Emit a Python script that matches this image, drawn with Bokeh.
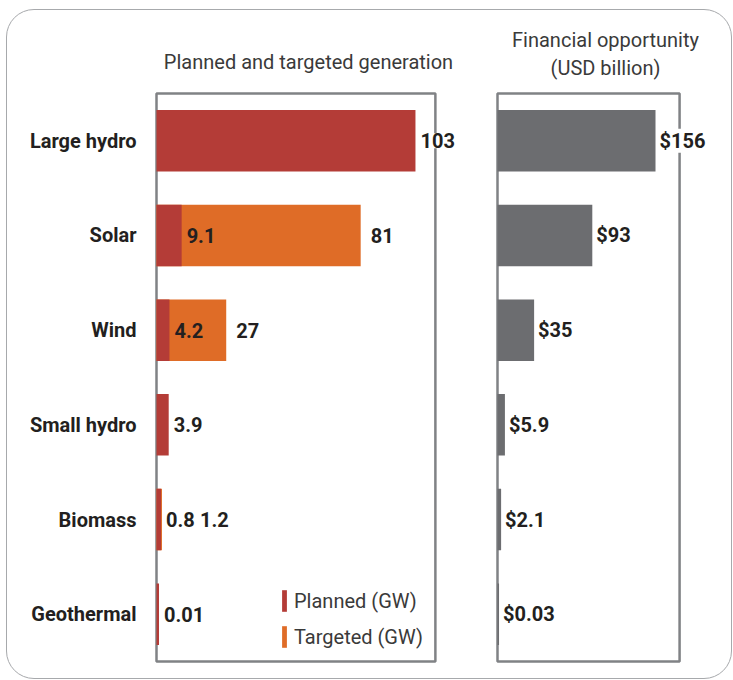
from bokeh.plotting import figure
from bokeh.models import (ColumnDataSource, LabelSet, Legend, LegendItem, Title,
                          BoxAnnotation, FixedTicker, Range1d)
from bokeh.core.properties import value
from bokeh.layouts import row
from bokeh.embed import file_html
from bokeh.resources import INLINE

# ---------------- data ----------------
categories = ["Large hydro", "Solar", "Wind", "Small hydro", "Biomass", "Geothermal"]
planned_gw = [103, 9.1, 4.2, 3.9, 0.8, 0.01]
planned_labels = ["103", "9.1", "4.2", "3.9", "0.8", "0.01"]
targeted_gw = [None, 81, 27, None, 1.2, None]
targeted_labels = ["", "81", "27", "", "1.2", ""]
finance_usd_bn = [156, 93, 35, 5.9, 2.1, 0.03]
finance_labels = ["$156", "$93", "$35", "$5.9", "$2.1", "$0.03"]

# ---------------- style ----------------
RED = "#B43C37"
ORANGE = "#DF6C27"
GREY = "#6C6D70"
FRAME = "#808285"
TEXT = "#231F20"
TITLE_C = "#3A3A3A"
FONT = "Roboto"

n = len(categories)
ypos = list(range(n - 1, -1, -1))          # top row first

LEFT_BASE, LEFT_BOX_END = -1.0, 111
RIGHT_BASE, RIGHT_BOX_END = -1.5, 180
LEFT_X = (-1.803, 121.89)
RIGHT_X = (-3.49, 215.8)
Y_PAD = 0.0211

H = 668
TOP = 81
FRAME_H = 572


def style_title(t):
    t.text_font = FONT
    t.text_font_style = "normal"
    t.text_font_size = "20px"
    t.text_color = TITLE_C
    t.align = "center"


def base_fig(width, x_range, bl, br):
    p = figure(width=width, height=H, x_range=Range1d(*x_range),
               y_range=Range1d(-0.5 - Y_PAD, n - 0.5 + Y_PAD),
               output_backend="svg", toolbar_location=None,
               min_border_left=bl, min_border_right=br,
               min_border_top=TOP, min_border_bottom=H - TOP - FRAME_H)
    p.xaxis.visible = False
    p.xgrid.visible = False
    p.ygrid.visible = False
    p.outline_line_color = None
    p.background_fill_color = None
    p.border_fill_color = None
    style_title(p.title)
    return p


def panel_box(p, left, right):
    p.add_layout(BoxAnnotation(left=left, right=right, bottom=-0.5, top=n - 0.5,
                               fill_alpha=0, line_color=FRAME, line_alpha=1,
                               line_width=2.5, level="underlay"))


lab_kw = dict(text_font=value(FONT), text_font_style="bold", text_font_size="20px",
              text_color=TEXT, text_baseline="middle", text_align="left")

# ---------------- left panel ----------------
left = base_fig(455, LEFT_X, 147, 0)
left.title.text = "Planned and targeted generation"
left.title.standoff = 35
panel_box(left, LEFT_BASE, LEFT_BOX_END)

tgt_idx = [i for i, t in enumerate(targeted_gw) if t is not None]
only_idx = [i for i, t in enumerate(targeted_gw) if t is None]

src_t = ColumnDataSource(dict(
    y=[ypos[i] for i in tgt_idx],
    val=[targeted_gw[i] for i in tgt_idx],
    lab=[targeted_labels[i] for i in tgt_idx],
    off=[10 if (targeted_gw[i] - planned_gw[i]) > 5 else 38 for i in tgt_idx],
))
src_p = ColumnDataSource(dict(y=ypos, val=planned_gw, lab=planned_labels))
src_p_stack = ColumnDataSource(dict(
    y=[ypos[i] for i in tgt_idx],
    val=[planned_gw[i] for i in tgt_idx],
    lab=[planned_labels[i] for i in tgt_idx]))
src_p_only = ColumnDataSource(dict(
    y=[ypos[i] for i in only_idx],
    val=[planned_gw[i] for i in only_idx],
    lab=[planned_labels[i] for i in only_idx]))

r_t = left.hbar(y="y", left=LEFT_BASE, right="val", height=0.65, source=src_t,
                fill_color=ORANGE, line_color=None)
r_p = left.hbar(y="y", left=LEFT_BASE, right="val", height=0.65, source=src_p,
                fill_color=RED, line_color=None)

left.add_layout(LabelSet(x="val", y="y", text="lab", source=src_p_only, x_offset=5,
                         background_fill_color="white", **lab_kw))
left.add_layout(LabelSet(x="val", y="y", text="lab", source=src_p_stack, x_offset=5,
                         **lab_kw))
left.add_layout(LabelSet(x="val", y="y", text="lab", source=src_t, x_offset="off",
                         **lab_kw))

yax = left.yaxis[0]
yax.ticker = FixedTicker(ticks=ypos)
yax.major_label_overrides = {y: c for y, c in zip(ypos, categories)}
yax.axis_line_color = None
yax.major_tick_line_color = None
yax.minor_tick_line_color = None
yax.major_label_text_font = FONT
yax.major_label_text_font_style = "bold"
yax.major_label_text_font_size = "20px"
yax.major_label_text_color = TEXT
yax.major_label_standoff = 12

legend = Legend(items=[LegendItem(label="Planned (GW)", renderers=[r_p]),
                       LegendItem(label="Targeted (GW)", renderers=[r_t])],
                location=(127, 13), glyph_width=6, glyph_height=27,
                label_standoff=7, spacing=9, padding=0, margin=0,
                border_line_color=None, background_fill_alpha=0,
                label_text_font=FONT, label_text_font_size="20px",
                label_text_color=TITLE_C)
left.add_layout(legend, "center")

# ---------------- right panel ----------------
right = base_fig(269, RIGHT_X, 33, 16)
right.yaxis.visible = False
right.title.text = "Financial opportunity"
right.title.standoff = -20
sub = Title(text="(USD billion)", standoff=24)
style_title(sub)
right.add_layout(sub, "above")
panel_box(right, RIGHT_BASE, RIGHT_BOX_END)

src_f = ColumnDataSource(dict(y=ypos, val=finance_usd_bn, lab=finance_labels))
right.hbar(y="y", left=RIGHT_BASE, right="val", height=0.65, source=src_f,
           fill_color=GREY, line_color=None)
right.add_layout(LabelSet(x="val", y="y", text="lab", source=src_f, x_offset=4,
                          background_fill_color="white", **lab_kw))

layout = row(left, right, styles={"border": "1px solid #A7A9AC",
                                  "border-radius": "28px",
                                  "background-color": "white",
                                  "margin-left": "6px",
                                  "margin-top": "9px"})

open("out.html", "w").write(file_html(layout, INLINE))
